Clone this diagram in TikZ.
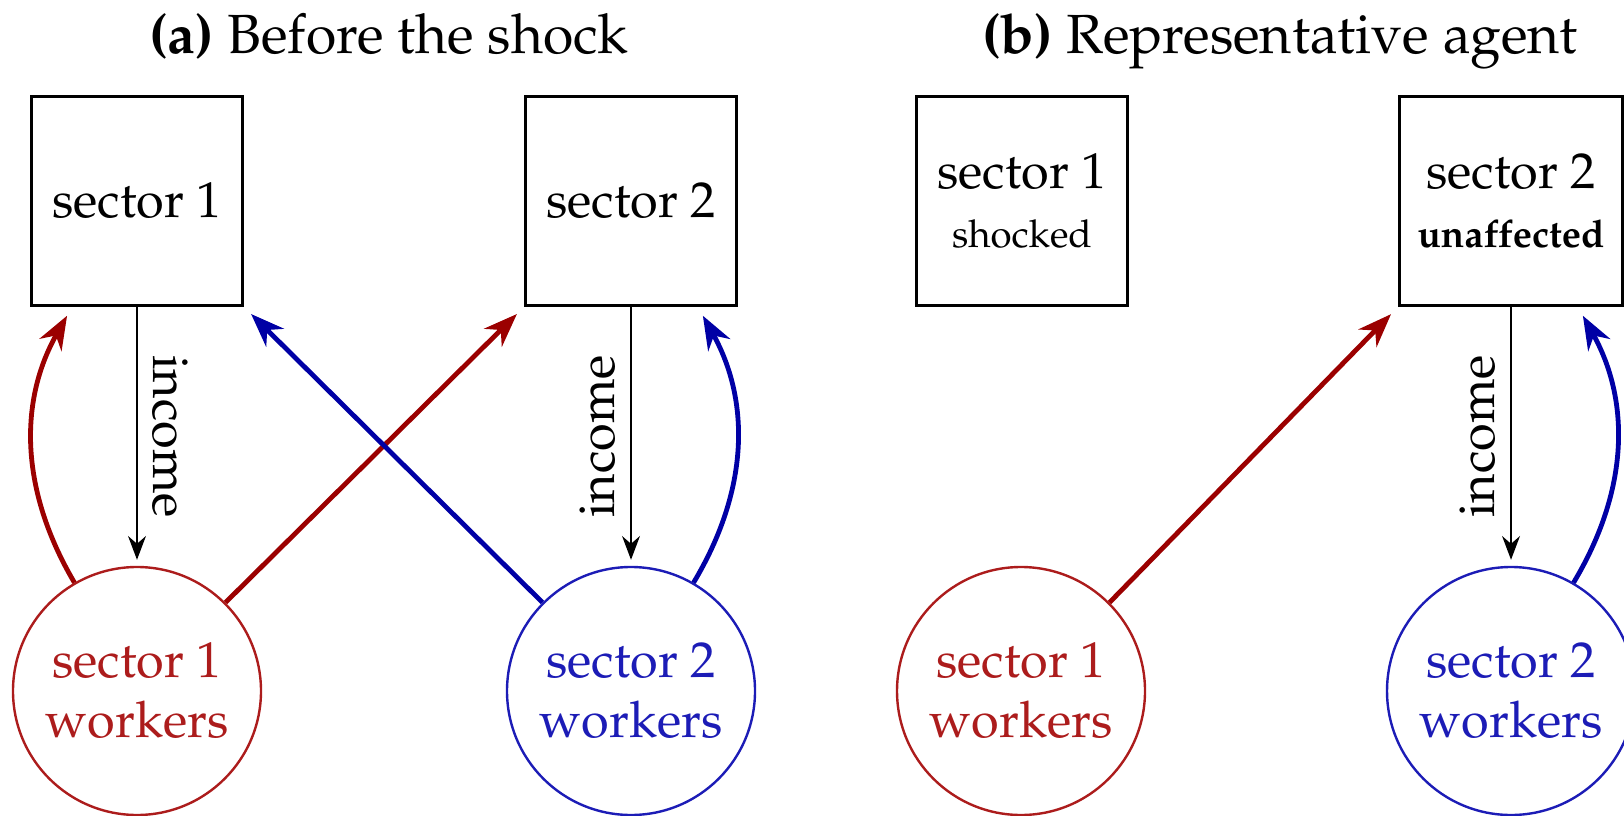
\documentclass[tikz,border=0pt]{standalone}
\usepackage[T1]{fontenc}
\usepackage{mathpazo}
\usetikzlibrary{arrows.meta,calc}

\definecolor{flowred}{RGB}{155,0,0}
\definecolor{flowblue}{RGB}{0,0,165}
\definecolor{workred}{RGB}{172,28,28}
\definecolor{workblue}{RGB}{28,28,182}

\begin{document}
\begin{tikzpicture}[x=0.25pt,y=0.25pt,
  sectorbox/.style={draw, line width=0.75pt, minimum width=52.75pt,
    minimum height=52.25pt, align=center, inner sep=4.5pt,
    font=\fontsize{12.6}{14.8}\selectfont},
  workers/.style={circle, draw, line width=0.6pt, minimum size=62pt,
    inner sep=0pt, align=center, font=\fontsize{12.6}{15}\selectfont},
  incomeflow/.style={-{Stealth}, line width=0.65pt, shorten >=1.5pt},
  spend/.style={-{Stealth}, line width=1.2pt, shorten >=2.5pt},
  paneltitle/.style={anchor=base, inner sep=0pt, font=\fontsize{13.8}{16}\selectfont},
  incomelabel/.style={midway, anchor=south, inner sep=3.5pt,
    font=\fontsize{12.6}{15}\selectfont}
]
\useasboundingbox (0,0) rectangle (1624,815);
\clip (0,0) rectangle (1624,815);

% panel titles
\node[paneltitle] (ta) at (389,761) {\textbf{(a)} Before the shock};
\node[paneltitle] (tb) at (1280,761) {\textbf{(b)} Representative agent};

% sectors
\node[sectorbox] (sa1) at (137,614) {sector 1};
\node[sectorbox] (sa2) at (631,614) {sector 2};
\node[sectorbox] (sb1) at (1022,614) {sector 1\\{\fontsize{9.6}{14.8}\selectfont shocked}};
\node[sectorbox] (sb2) at (1511,614) {sector 2\\{\fontsize{9.6}{14.8}\selectfont\bfseries unaffected}};

% workers
\node[workers, draw=workred, text=workred] (wa1) at (137,124) {sector 1\\workers};
\node[workers, draw=workblue, text=workblue] (wa2) at (631,124) {sector 2\\workers};
\node[workers, draw=workred, text=workred] (wb1) at (1021,124) {sector 1\\workers};
\node[workers, draw=workblue, text=workblue] (wb2) at (1511,124) {sector 2\\workers};

% income from sectors to their workers
\draw[incomeflow] (sa1) -- node[incomelabel, rotate=-90] {income} (wa1);
\draw[incomeflow] (sa2) -- node[incomelabel, rotate=90] {income} (wa2);
\draw[incomeflow] (sb2) -- node[incomelabel, rotate=90] {income} (wb2);

% spending of workers on sectors, panel (a)
\draw[spend, flowred] (wa1.120) to[bend left=30] ($(sa1.south)+(-65,0)$);
\draw[spend, flowred] (wa1.45) -- (sa2.south west);
\draw[spend, flowblue] (wa2.135) -- (sa1.south east);
\draw[spend, flowblue] (wa2.60) to[bend right=30] ($(sa2.south)+(67,0)$);

% spending of workers on sectors, panel (b)
\draw[spend, flowred] (wb1.45) -- (sb2.south west);
\draw[spend, flowblue] (wb2.60) to[bend right=30] ($(sb2.south)+(67,0)$);
\end{tikzpicture}
\end{document}
